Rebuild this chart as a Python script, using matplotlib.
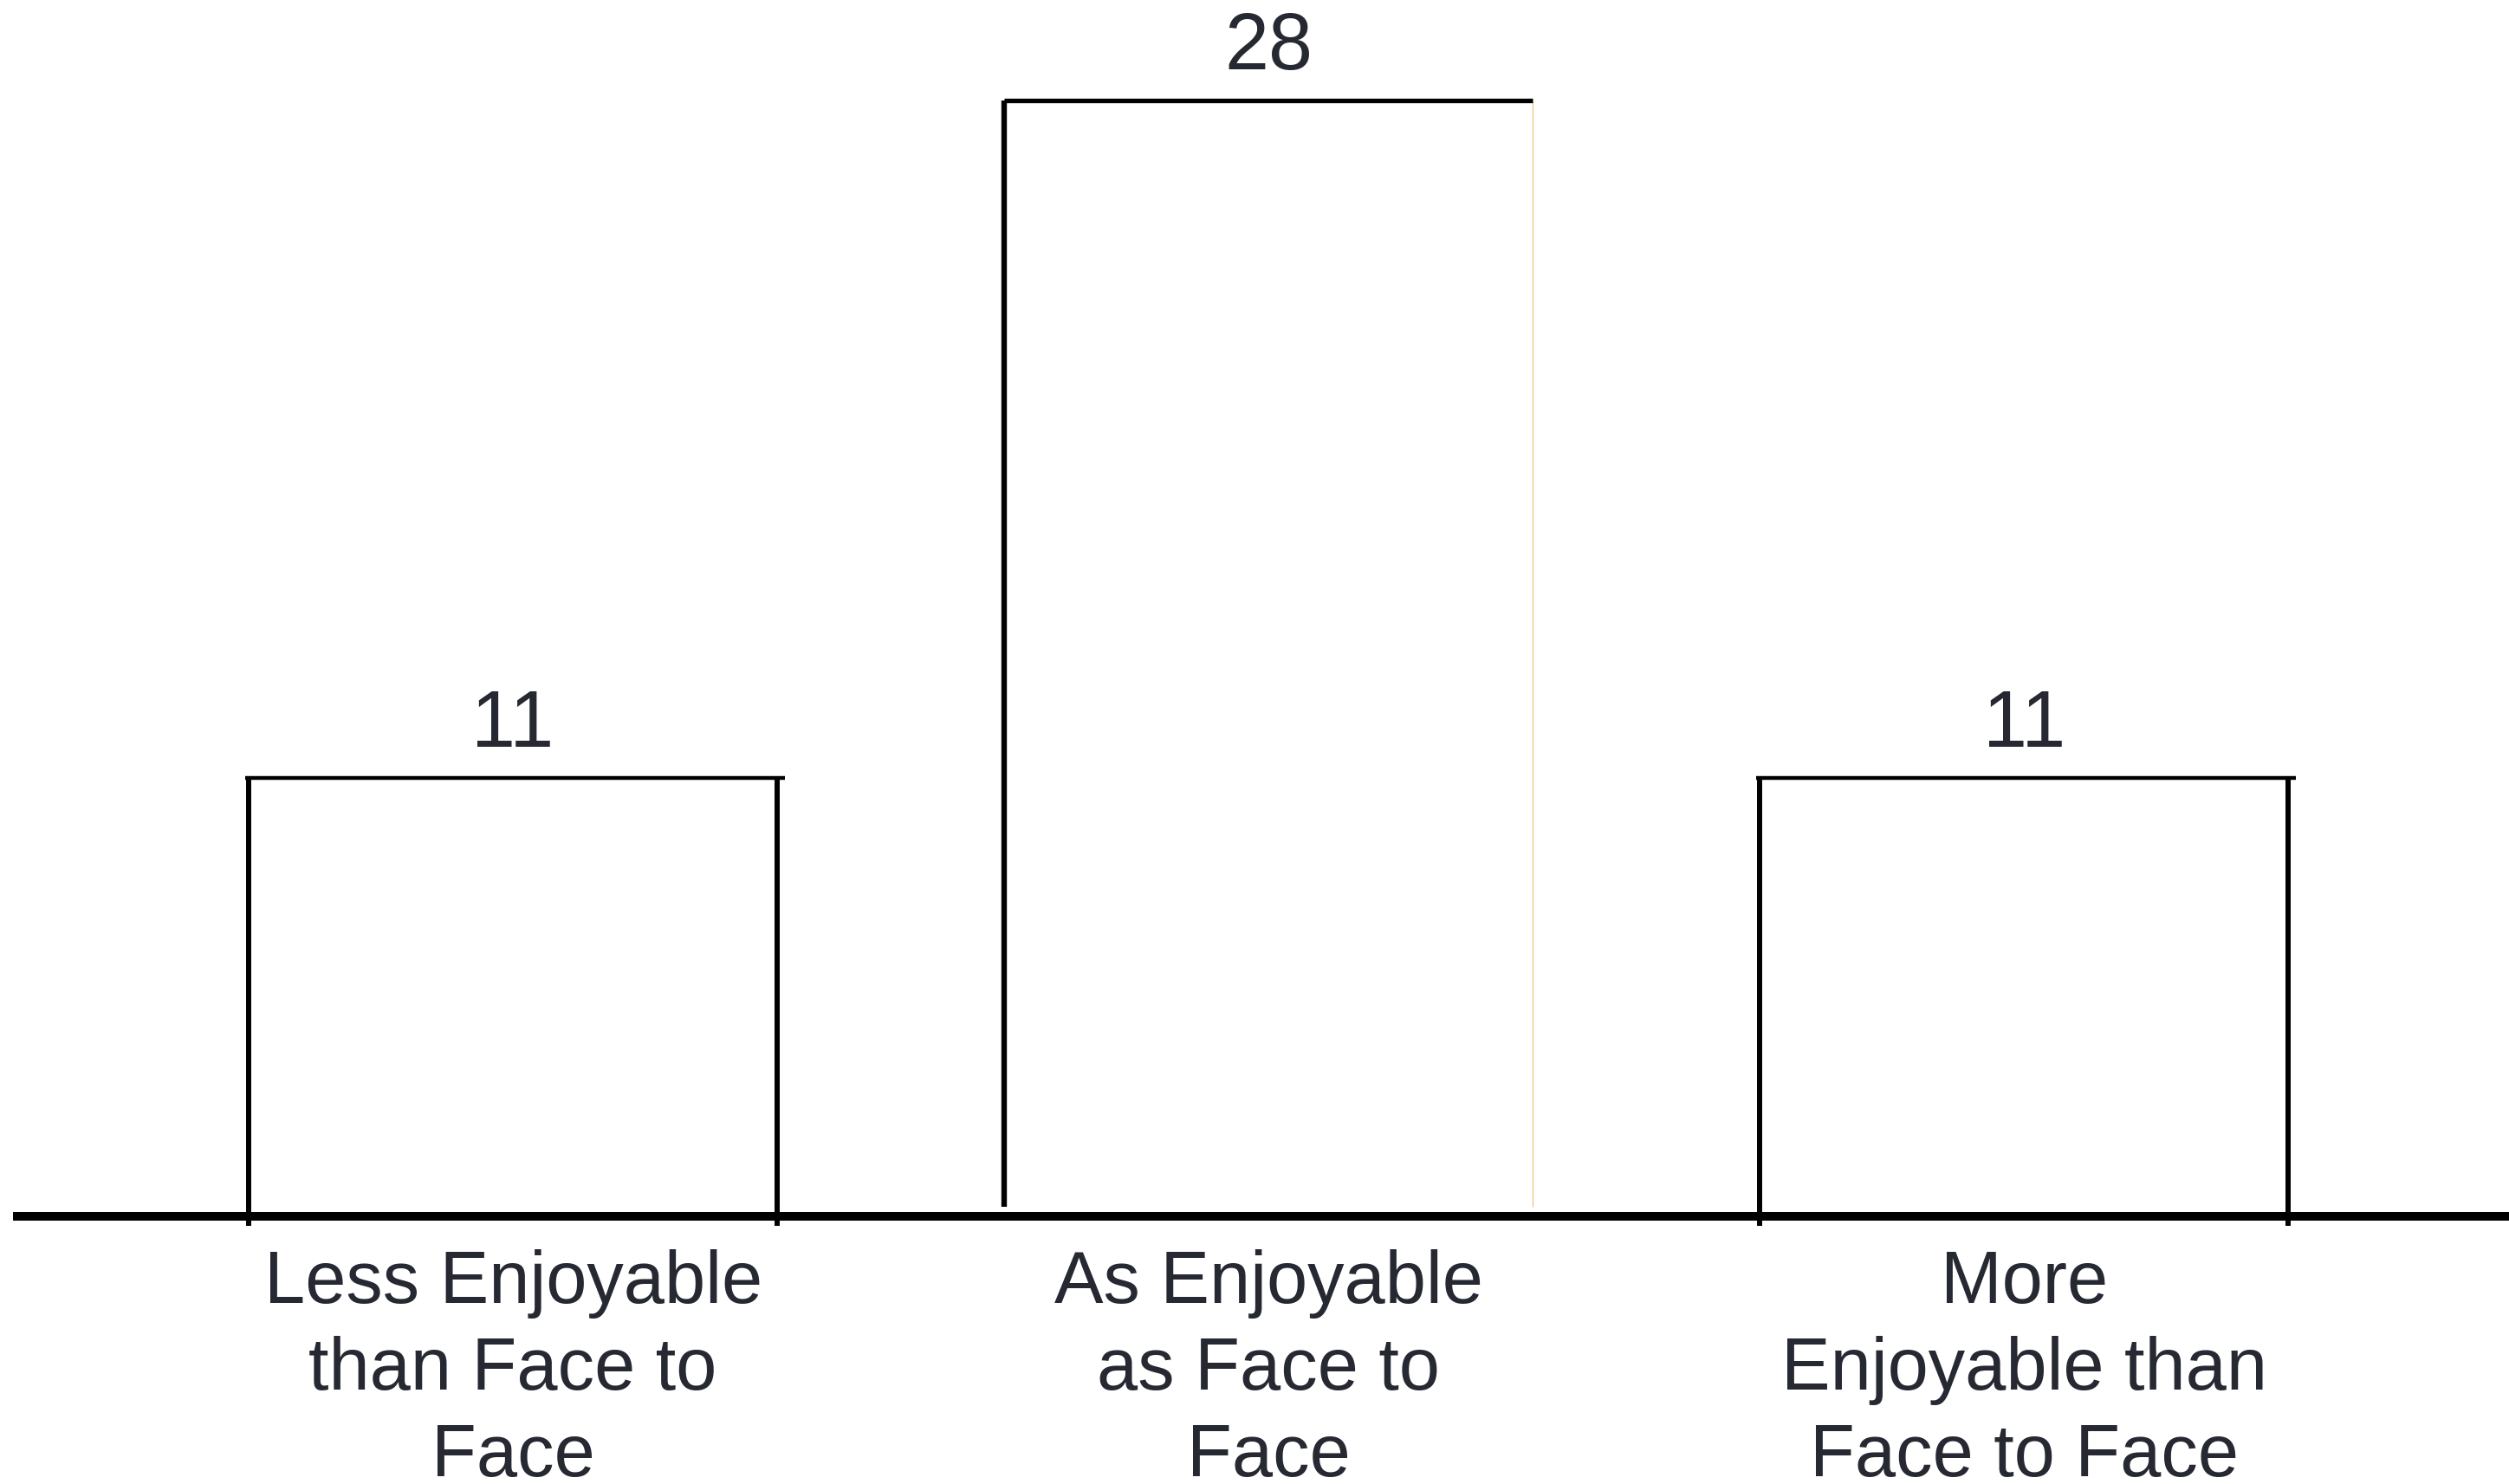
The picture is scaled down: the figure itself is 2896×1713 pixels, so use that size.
import matplotlib
matplotlib.use("Agg")
import matplotlib.pyplot as plt

categories = ["Less Enjoyable\nthan Face to\nFace",
              "As Enjoyable\nas Face to\nFace",
              "More\nEnjoyable than\nFace to Face"]
counts = [11, 28, 11]

plt.rcParams['font.family'] = ['Liberation Sans', 'DejaVu Sans']
text_color = '#262932'

fig = plt.figure(figsize=(28.96, 17.13), dpi=100)
ax = fig.add_axes([0, 0, 1, 1])
ax.set_xlim(-0.679, 2.642)
ax.set_ylim(-6.717, 30.52)
ax.axis('off')

half = 0.35
xs = list(range(len(counts)))

# baseline
ax.axhline(0, xmin=0.007, xmax=1, color='black', lw=7.2, zorder=3)

# bars drawn as open outlines (no bottom edge)
for i, v in zip(xs, counts):
    left, right = i - half, i + half
    if i == 1:
        ax.vlines(left, 0.24, v, color='black', lw=4.6)
        ax.vlines(right, 0.24, v, color='#ecc07a', lw=0.8)
        ax.hlines(v, left, right, color='black', lw=3.8)
    else:
        ax.vlines([left, right], -0.24, v, color='black', lw=4.3)
        ax.hlines(v, left - 0.005, right + 0.01, color='black', lw=3.2)
    ax.annotate(str(v), xy=(i, v), xytext=(0, 26), textcoords='offset points',
                ha='center', va='baseline', fontsize=66, color=text_color)
    ax.annotate(categories[i], xy=(i, 0), xytext=(0, -216), textcoords='offset points',
                ha='center', va='baseline', fontsize=61, color=text_color,
                linespacing=1.32, multialignment='center')

fig.savefig("out.png", dpi=100, facecolor='white')
